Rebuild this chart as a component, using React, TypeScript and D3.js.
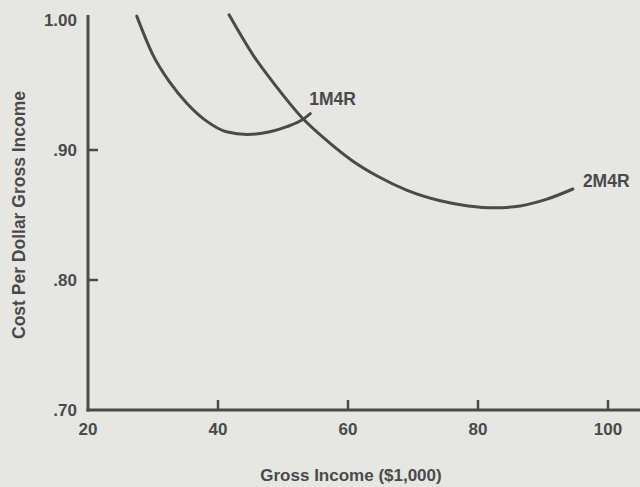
import React from "react";
import * as d3 from "d3";

const income1M4R = [27.5, 30, 32.6, 35.2, 38.3, 41.3, 44.5, 48, 50.6, 52.9, 54.2];
const cost1M4R = [1.003, 0.973, 0.952, 0.936, 0.922, 0.914, 0.912, 0.914, 0.918, 0.923, 0.928];

const income2M4R = [41.7, 45.4, 49.1, 52.9, 56.8, 60.6, 64.5, 69.1, 74.2, 78.5, 82.5, 86.5, 90.5, 94.6];
const cost2M4R = [1.004, 0.973, 0.948, 0.925, 0.907, 0.892, 0.88, 0.869, 0.861, 0.857, 0.8555, 0.857, 0.862, 0.87];

const xTicks = [20, 40, 60, 80, 100];
const yTicks = [0.7, 0.8, 0.9, 1.0];
const yTickLabels = [".70", ".80", ".90", "1.00"];
const seriesNames = ["1M4R", "2M4R"];

const W = 640;
const H = 487;
const BG = "#e6e6e3";
const INK = "#4a4a4a";
const FONT = "'Liberation Sans', Arial, Helvetica, sans-serif";

export default function App() {
  const x = d3.scaleLinear().domain([20, 100]).range([88, 608]);
  const y = d3.scaleLinear().domain([0.7, 1.0]).range([410, 20]);
  const line = d3
    .line<[number, number]>()
    .x((d) => x(d[0]))
    .y((d) => y(d[1]))
    .curve(d3.curveMonotoneX);

  const s1: [number, number][] = income1M4R.map((v, i) => [v, cost1M4R[i]]);
  const s2: [number, number][] = income2M4R.map((v, i) => [v, cost2M4R[i]]);

  const last1 = s1[s1.length - 1];
  const last2 = s2[s2.length - 1];

  return (
    <svg
      width={W}
      height={H}
      style={{ position: "absolute", left: 0, top: 0, background: BG }}
      fontFamily={FONT}
    >
      <rect x={0} y={0} width={W} height={H} fill={BG} />
      {/* axes */}
      <line x1={x(20)} x2={x(20)} y1={y(1.0) - 5} y2={y(0.7) + 1.5} stroke={INK} strokeWidth={3} />
      <line x1={x(20) - 1.5} x2={W} y1={y(0.7)} y2={y(0.7)} stroke={INK} strokeWidth={3} />
      {/* y ticks */}
      {yTicks.map((t, i) => (
        <g key={"yt" + t}>
          {t > 0.7 && t < 1.0 && (
            <line x1={x(20)} x2={x(20) + 10} y1={y(t)} y2={y(t)} stroke={INK} strokeWidth={2.5} />
          )}
          <text
            x={77}
            y={y(t)}
            dy="0.36em"
            textAnchor="end"
            fontSize={17}
            fontWeight="bold"
            fill={INK}
          >
            {yTickLabels[i]}
          </text>
        </g>
      ))}
      {/* x ticks */}
      {xTicks.map((t) => (
        <g key={"xt" + t}>
          {t > 20 && (
            <line x1={x(t)} x2={x(t)} y1={y(0.7)} y2={y(0.7) - 10} stroke={INK} strokeWidth={2.5} />
          )}
          <text x={x(t)} y={435} textAnchor="middle" fontSize={17} fontWeight="bold" fill={INK}>
            {t}
          </text>
        </g>
      ))}
      {/* curves */}
      <path d={line(s1) || ""} fill="none" stroke={INK} strokeWidth={3} strokeLinecap="round" />
      <path d={line(s2) || ""} fill="none" stroke={INK} strokeWidth={3} strokeLinecap="round" />
      <text x={x(last1[0]) - 1} y={105} fontSize={17.5} fontWeight="bold" fill={INK}>
        {seriesNames[0]}
      </text>
      <text x={x(last2[0]) + 10} y={187} fontSize={17.5} fontWeight="bold" fill={INK}>
        {seriesNames[1]}
      </text>
      {/* axis titles */}
      <text x={351} y={481} textAnchor="middle" fontSize={17} fontWeight="bold" fill={INK}>
        Gross Income ($1,000)
      </text>
      <text
        transform={`translate(25,215) rotate(-90)`}
        textAnchor="middle"
        fontSize={17.5}
        fontWeight="bold"
        fill={INK}
      >
        Cost Per Dollar Gross Income
      </text>
    </svg>
  );
}
